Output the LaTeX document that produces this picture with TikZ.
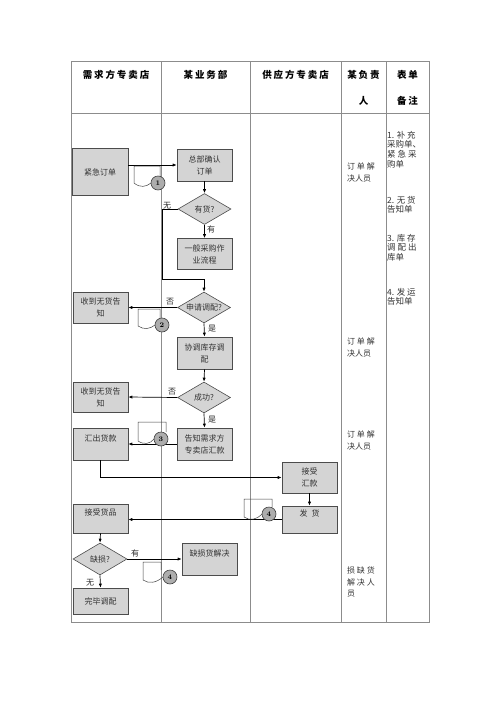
\documentclass[tikz,border=0pt]{standalone}
\usepackage{fontspec}
\newfontfamily\cjk{Noto Sans CJK SC}
\newfontfamily\cjkh[LetterSpace=20]{Noto Sans CJK SC}
\usetikzlibrary{shapes.geometric,arrows.meta}
\begin{document}
\begin{tikzpicture}[x=1pt,y=-1pt,
  grid/.style={draw=black!45, line width=0.6pt},
  head/.style={font=\cjkh\bfseries\fontsize{9.5}{12}\selectfont, inner sep=0pt},
  box/.style={draw=black!70, fill=black!17, line width=0.6pt, minimum width=55pt, minimum height=32pt, inner sep=1pt, align=center, text=black!80, font=\cjk\fontsize{8}{12}\selectfont},
  dia/.style={diamond, draw=black!70, fill=black!17, line width=0.6pt, aspect=1.7, minimum width=53pt, minimum height=31pt, inner sep=0pt, text=black!80, font=\cjk\fontsize{8}{10}\selectfont},
  lab/.style={font=\cjk\fontsize{8}{10}\selectfont, inner sep=0pt, text=black!85},
  note/.style={font=\cjk\fontsize{8}{11.5}\selectfont, inner sep=0pt, align=left, anchor=north west, text=black!80},
  form/.style={font=\cjk\fontsize{8.5}{9.6}\selectfont, inner sep=0pt, align=left, anchor=north west, text=black!80},
  arr/.style={-{Latex[length=4pt,width=3.2pt]}, line width=0.7pt},
  docline/.style={draw=black!75, line width=0.5pt},
  circ/.style={circle, draw=black!75, fill=black!32, line width=0.6pt, minimum size=14pt, inner sep=0pt, font=\bfseries\fontsize{7}{7}\selectfont}]
\useasboundingbox (0,0) rectangle (500,707);
% table
\draw[grid] (71,61) rectangle (429,622);
\draw[grid] (71,113) -- (429,113);
\foreach \x in {161,250,341,386} \draw[grid] (\x,61) -- (\x,622);
% header
\node[head] (h1) at (116,75) {需求方专卖店};
\node[head] (h2) at (205.5,75) {某业务部};
\node[head] (h3) at (295.5,75) {供应方专卖店};
\node[head] (h4a) at (363.5,75) {某负责};
\node[head] (h4b) at (363.5,101) {人};
\node[head] (h5a) at (407.5,75) {表单};
\node[head] (h5b) at (407.5,101) {备注};
% boxes
\node[box, minimum width=56pt, minimum height=47pt] (jinji) at (100,172) {紧急订单};
\node[box] (zongbu) at (204.5,165) {总部确认\\订单};
\node[dia] (youhuo) at (204.5,209) {有货?};
\node[box, minimum height=31pt] (yiban) at (204.5,254) {一般采购作\\业流程};
\node[dia] (shenqing) at (204,307.5) {申请调配?};
\node[box, minimum height=31pt] (shoudao1) at (100.5,307.5) {收到无货告\\知};
\node[box] (xietiao) at (204.5,353) {协调库存调\\配};
\node[dia] (chenggong) at (204,397.5) {成功?};
\node[box, minimum height=30pt] (shoudao2) at (100.5,397) {收到无货告\\知};
\node[box] (gaozhi) at (204.5,444) {告知需求方\\专卖店汇款};
\node[box] (huichu) at (100.5,444) {汇出货款\\\mbox{}};
\node[box, minimum height=31pt] (jieshouhk) at (309.5,477.5) {接受\\汇款};
\node[box, minimum height=27pt] (fahuo) at (309.5,519.5) {发\enspace 货\\\mbox{}};
\node[box, minimum height=29pt] (jieshouhp) at (100.5,518.5) {接受货品\\\mbox{}};
\node[dia, minimum width=54pt, minimum height=32pt] (queshun) at (100,559) {缺损?};
\node[box] (queshunjj) at (209.5,559) {缺损货解决\\\mbox{}};
\node[box, minimum height=26pt] (wanbi) at (100.5,601) {完毕调配};
% connectors
\coordinate (c1) at (162,279);
\draw[arr] (zongbu.west -| jinji.east) -- (zongbu.west);
\draw[arr] (zongbu.south) -- (youhuo.north);
\draw[arr] (youhuo.south) -- (yiban.north);
\draw[arr] (youhuo.west) -| (c1) -| (shenqing.north);
\draw[arr] (shenqing.west) -- (shoudao1.east);
\draw[arr] (shenqing.south) -- (xietiao.north);
\draw[arr] (xietiao.south) -- (chenggong.north);
\draw[arr] (chenggong.west) -- (shoudao2.east);
\draw[arr] (chenggong.south) -- (gaozhi.north);
\draw[arr] (gaozhi.west) -- (huichu.east);
\draw[arr] (huichu.south) |- (jieshouhk.west);
\draw[arr] (jieshouhk.south) -- (fahuo.north);
\draw[arr] (fahuo.west) -- (fahuo.west -| jieshouhp.east);
\draw[arr] (jieshouhp.south) -- (queshun.north);
\draw[arr] (queshun.east) -- (queshunjj.west);
\draw[arr] (queshun.south) -- (wanbi.north);
% labels
\node[lab] (l1) at (167,206) {无};
\node[lab] (l2) at (211,229) {有};
\node[lab] (l3) at (170,302) {否};
\node[lab] (l4) at (212,329) {是};
\node[lab] (l5) at (172,392) {否};
\node[lab] (l6) at (212,420) {是};
\node[lab] (l7) at (135,553) {有};
\node[lab] (l8) at (90,583) {无};
% documents
\draw[docline] (160,177) -- (160,166) -- (134,166) -- (134,183) .. controls (140,188) and (146,187) .. (151,183);
\draw[docline] (160,318) -- (160,309) -- (138,309) -- (138,326) .. controls (144,330) and (150,329) .. (155,325);
\draw[docline] (166,432) -- (166,422) -- (138,422) -- (138,441) .. controls (144,445) and (150,444) .. (154,439);
\draw[docline] (272,507) -- (272,499) -- (244,499) -- (244,517) .. controls (250,521) and (256,520) .. (262,514);
\draw[docline] (161,570) -- (161,562) -- (143,562) -- (143,580) .. controls (149,584) and (156,583) .. (163,577);
\node[circ] (k1) at (158,183) {1};
\node[circ] (k2) at (162,325) {2};
\node[circ] (k3) at (161,439) {3};
\node[circ] (k4a) at (269,514) {4};
\node[circ] (k4b) at (170,577) {4};
% responsibility column
\node[note] (n1) at (347,163) {订 单 解\\决人员};
\node[note] (n2) at (347,338) {订 单 解\\决人员};
\node[note] (n3) at (347,431) {订 单 解\\决人员};
\node[note] (n4) at (347,567) {损 缺 货\\解 决 人\\员};
% form column
\node[form] (f1) at (387,131) {1. 补 充\\采购单、\\紧 急 采\\购单};
\node[form] (f2) at (387,196) {2. 无 货\\告知单};
\node[form] (f3) at (387,234) {3. 库 存\\调 配 出\\库单};
\node[form] (f4) at (387,288) {4. 发 运\\告知单};
\end{tikzpicture}
\end{document}
